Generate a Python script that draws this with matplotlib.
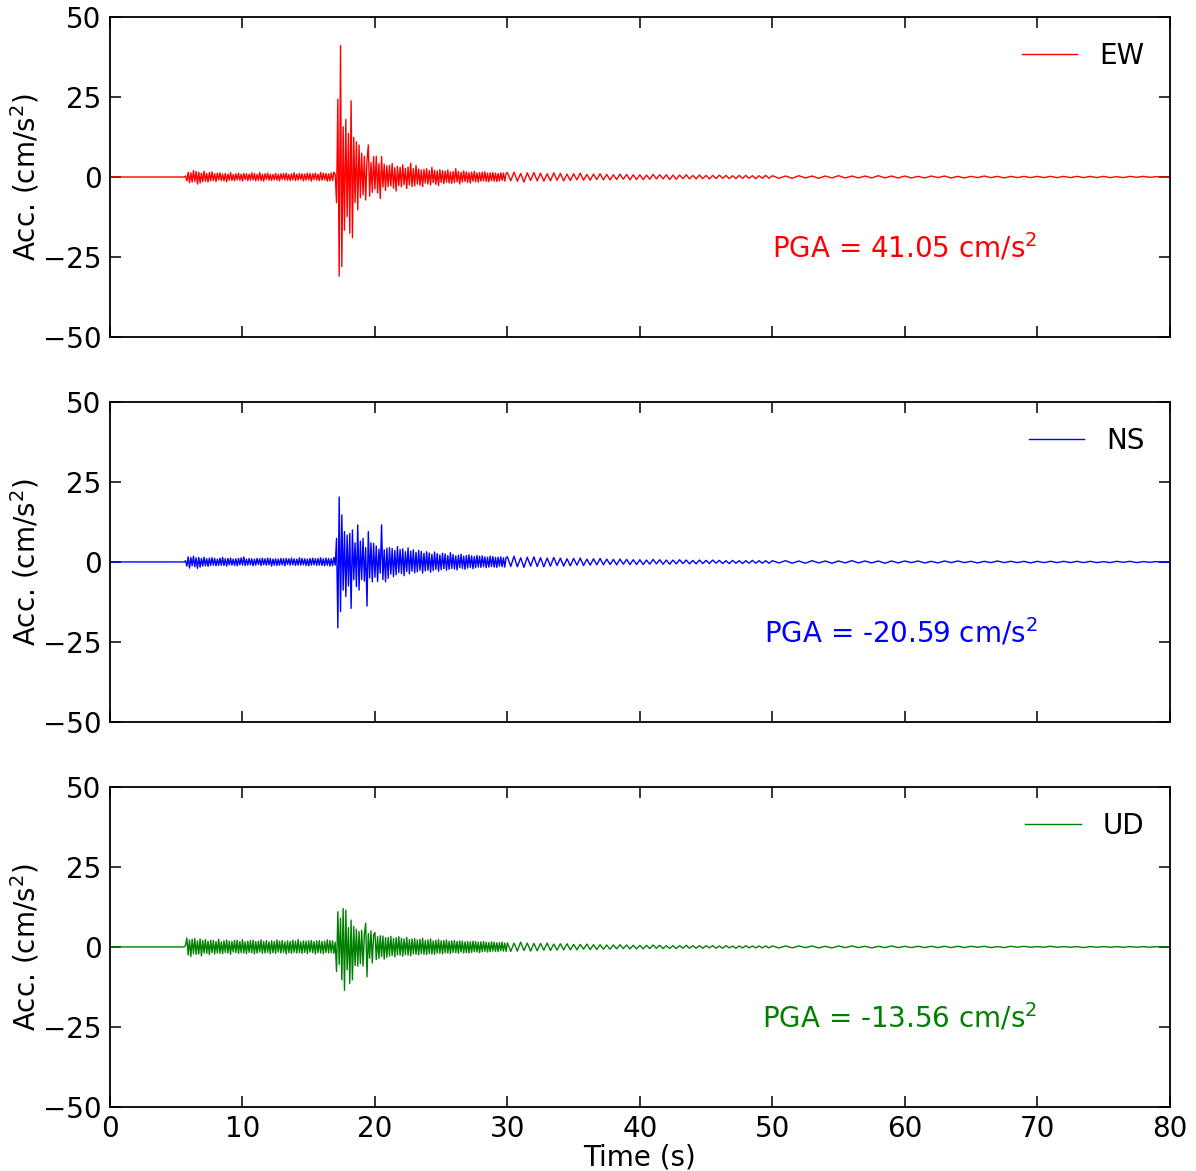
import numpy as np
import matplotlib
matplotlib.use("Agg")
import matplotlib.pyplot as plt

# record layout (s): quiet lead, P-wave part, S burst, coda, tail
t_lead = [0.0, 5.6]
lead = [0.0, 0.0]
seg_start = [5.7, 17.0, 30.0, 50.0]
seg_dt = [0.1, 0.1, 0.25, 0.5]

components = ["EW", "NS", "UD"]
colors = ["red", "blue", "green"]
pga = ["41.05", "-20.59", "-13.56"]

# ---- EW (cm/s^2) ----
ew_pre = [
    0.3, -1.2, 1.5, -1.8, 1.3, -1.6, 2.0, -1.4, 1.7, -2.2,
    1.5, -1.9, 1.2, -1.5, 1.8, -1.3, 1.1, -1.6, 1.4, -1.2,
    1.6, -1.1, 1.0, -1.4, 1.2, -0.9, 1.3, -1.1, 0.9, -1.2,
    1.1, -1.5, 0.9, -1.0, 1.4, -1.1, 0.8, -1.2, 1.0, -0.9,
    1.2, -1.0, 0.9, -1.3, 1.1, -0.8, 1.0, -1.1, 0.9, -1.0,
    1.3, -0.9, 1.1, -1.2, 0.8, -1.0, 1.4, -1.1, 0.9, -1.3,
    1.0, -0.8, 1.2, -1.0, 0.9, -1.1, 0.8, -0.9, 1.1, -1.0,
    0.9, -1.2, 1.0, -0.8, 1.1, -0.9, 1.2, -1.0, 0.8, -1.1,
    1.0, -0.9, 1.3, -1.1, 0.9, -1.0, 1.1, -0.8, 1.0, -1.2,
    0.9, -1.0, 1.2, -0.9, 1.1, -1.3, 1.0, -0.8, 1.2, -1.0,
    0.9, -1.1, 1.4, -1.0, 1.2, -0.9, 1.1, -1.3, 1.0, -1.2,
    1.3, -1.1, 1.5,
]
ew_main = [
    0.8, -8.0, 24.3, -31.0, 41.05, -28.0, 15.7, -16.6, 18.0, -12.4,
    13.6, -17.6, 23.8, -19.0, 12.4, -8.0, 11.0, -10.3, 10.0, -6.5,
    7.4, -5.6, 6.5, -7.2, 5.2, 10.0, -6.0, 4.5, -4.8, 6.4,
    -3.8, 6.5, -5.0, 4.2, -6.7, 6.4, -3.2, 4.0, -4.2, 3.5,
    -3.0, 3.6, -2.8, 4.2, -3.5, 2.9, -4.4, 3.3, -2.7, 3.0,
    -3.1, 3.8, -2.4, 2.7, -3.6, 3.1, -2.5, 4.3, -3.0, 2.6,
    -2.8, 3.6, -2.2, 2.5, -2.6, 2.2, -3.0, 2.4, -1.9, 2.6,
    -2.2, 2.0, -2.5, 3.0, -1.8, 2.1, -2.3, 1.9, -2.7, 2.3,
    -1.7, 2.0, -2.1, 1.8, -1.6, 2.2, -1.9, 1.6, -2.0, 1.7,
    -1.8, 2.6, -1.5, 1.7, -2.2, 1.5, -1.6, 1.9, -1.4, 1.6,
    -1.7, 1.4, -1.9, 1.5, -1.3, 1.8, -1.5, 1.3, -1.6, 1.4,
    -1.3, 1.5, -1.2, 1.6, -1.4, 1.2, -1.5, 1.3, -1.1, 1.4,
    -1.3, 1.2, -1.4, 1.1, -1.2, 1.3, -1.0, 1.2, -1.3, 1.1,
]
ew_coda = [
    1.4, -1.2, 1.5, -1.3, 1.1, -1.6, 1.3, -1.1, 1.4, -1.2,
    1.2, -1.3, 1.0, -1.2, 1.3, -1.0, 1.1, -1.2, 0.9, -1.1,
    1.0, -0.9, 1.2, -1.0, 0.8, -1.0, 0.9, -0.8, 1.0, -0.9,
    0.8, -0.9, 0.7, -0.8, 0.9, -0.7, 0.8, -0.9, 0.7, -0.8,
    0.7, -0.8, 0.6, -0.7, 0.8, -0.6, 0.7, -0.6, 0.7, -0.8,
    0.6, -0.7, 0.6, -0.5, 0.7, -0.6, 0.5, -0.6, 0.6, -0.5,
    0.5, -0.6, 0.5, -0.5, 0.6, -0.4, 0.5, -0.5, 0.4, -0.5,
    0.5, -0.4, 0.5, -0.4, 0.4, -0.5, 0.4, -0.4, 0.5, -0.4,
]
ew_tail = [
    0.4, -0.4, 0.3, -0.4, 0.4, -0.3, 0.3, -0.4, 0.3, -0.3,
    0.4, -0.3, 0.3, -0.3, 0.3, -0.3, 0.4, -0.3, 0.3, -0.3,
    0.3, -0.3, 0.2, -0.3, 0.3, -0.2, 0.3, -0.3, 0.2, -0.3,
    0.2, -0.2, 0.3, -0.2, 0.2, -0.3, 0.2, -0.2, 0.2, -0.2,
    0.2, -0.2, 0.2, -0.2, 0.2, -0.2, 0.2, -0.2, 0.2, -0.2,
    0.2, -0.2, 0.1, -0.2, 0.2, -0.1, 0.2, -0.1, 0.1, -0.1, 0.0,
]

# ---- NS (cm/s^2) ----
ns_pre = [
    0.4, -1.3, 1.6, -1.9, 1.4, -1.2, 1.8, -1.5, 1.3, -2.0,
    1.4, -1.6, 1.1, -1.3, 1.5, -1.2, 1.0, -1.4, 1.2, -1.1,
    1.3, -1.0, 1.1, -1.2, 0.9, -1.1, 1.2, -1.0, 1.4, -1.1,
    1.0, -1.3, 1.1, -0.9, 1.2, -1.0, 0.9, -1.1, 1.0, -1.2,
    1.1, -0.9, 1.3, -1.0, 1.6, -1.1, 0.9, -1.0, 1.1, -0.9,
    1.0, -1.2, 0.9, -1.0, 1.1, -0.8, 1.0, -1.1, 1.2, -0.9,
    1.0, -1.0, 1.2, -0.9, 1.1, -1.3, 0.9, -1.0, 1.0, -1.1,
    0.9, -1.0, 1.1, -0.9, 1.0, -1.2, 1.1, -0.8, 1.0, -1.0,
    1.2, -0.9, 1.0, -1.1, 0.9, -1.0, 1.3, -1.0, 1.1, -0.9,
    1.0, -1.1, 0.9, -1.2, 1.1, -1.0, 1.2, -0.9, 1.0, -1.1,
    1.1, -1.0, 1.3, -1.1, 1.0, -1.2, 1.2, -1.0, 1.1, -1.3,
    1.0, -1.2, 1.4,
]
ns_main = [
    -1.0, 7.4, -20.59, 20.3, -15.5, 14.7, -8.8, 9.5, -10.8, 8.4,
    -7.5, 8.9, -14.5, 10.0, -5.5, 6.0, -7.7, 11.6, -8.8, 6.5,
    -5.5, 7.4, -6.0, 4.5, -13.8, 9.5, -5.0, 6.0, -6.2, 5.8,
    -4.8, 5.0, -6.1, 4.0, -3.5, 11.6, -5.5, 3.8, -6.2, 4.3,
    -5.1, 4.5, -3.8, 4.2, -4.6, 3.6, -4.0, 4.8, -3.3, 3.9,
    -3.6, 4.1, -4.3, 3.2, -3.0, 4.4, -3.7, 3.4, -2.9, 3.8,
    -3.4, 3.0, -3.1, 3.6, -2.6, 3.3, -3.5, 2.7, -2.8, 3.2,
    -2.6, 2.8, -3.2, 2.4, -2.7, 3.1, -2.3, 2.6, -2.9, 2.2,
    -2.4, 2.7, -2.1, 2.5, -2.6, 2.0, -2.3, 2.9, -2.0, 2.3,
    -2.2, 1.9, -2.5, 2.1, -1.8, 2.4, -2.0, 1.8, -2.3, 2.0,
    -1.9, 2.2, -1.7, 1.9, -2.1, 1.7, -1.8, 2.0, -1.6, 1.8,
    -1.7, 1.9, -1.5, 1.6, -1.8, 1.5, -1.6, 1.8, -1.4, 1.7,
    -1.6, 1.4, -1.7, 1.5, -1.3, 1.6, -1.5, 1.3, -1.6, 1.4,
]
ns_coda = [
    1.6, -1.4, 1.8, -1.5, 1.3, -1.7, 1.5, -1.3, 1.6, -1.4,
    1.3, -1.5, 1.2, -1.3, 1.4, -1.1, 1.2, -1.3, 1.0, -1.2,
    1.1, -1.0, 1.2, -1.1, 0.9, -1.0, 1.0, -0.9, 1.1, -0.9,
    0.9, -0.8, 0.8, -0.9, 0.9, -0.7, 0.8, -0.8, 0.7, -0.8,
    0.7, -0.8, 0.6, -0.7, 0.8, -0.6, 0.7, -0.7, 0.6, -0.7,
    0.6, -0.6, 0.7, -0.5, 0.6, -0.6, 0.5, -0.6, 0.6, -0.5,
    0.5, -0.5, 0.6, -0.4, 0.5, -0.5, 0.4, -0.5, 0.5, -0.4,
    0.4, -0.5, 0.4, -0.4, 0.5, -0.4, 0.4, -0.4, 0.4, -0.4,
]
ns_tail = [
    0.4, -0.3, 0.4, -0.4, 0.3, -0.4, 0.4, -0.3, 0.3, -0.4,
    0.3, -0.3, 0.4, -0.3, 0.3, -0.3, 0.3, -0.4, 0.3, -0.3,
    0.3, -0.2, 0.3, -0.3, 0.2, -0.3, 0.3, -0.2, 0.3, -0.2,
    0.2, -0.3, 0.2, -0.2, 0.3, -0.2, 0.2, -0.2, 0.2, -0.3,
    0.2, -0.2, 0.2, -0.2, 0.2, -0.2, 0.2, -0.2, 0.2, -0.2,
    0.1, -0.2, 0.2, -0.1, 0.2, -0.2, 0.1, -0.1, 0.1, -0.1, 0.0,
]

# ---- UD (cm/s^2) ----
ud_pre = [
    0.5, 2.8, -2.5, 2.2, -3.0, 2.4, -2.1, 2.6, -2.3, 1.9,
    -2.2, 2.5, -2.8, 2.0, -1.9, 2.3, -2.0, 1.8, -2.4, 2.1,
    -1.8, 2.0, -2.2, 1.7, -1.9, 2.4, -2.0, 1.6, -2.1, 1.9,
    -1.7, 2.2, -1.9, 1.8, -2.3, 1.7, -1.6, 2.0, -1.8, 2.1,
    -2.0, 1.7, -1.8, 2.3, -1.9, 1.6, -2.1, 1.8, -1.7, 2.0,
    -1.8, 2.1, -2.2, 1.7, -1.9, 1.8, -1.6, 2.2, -2.0, 1.7,
    -1.9, 2.0, -1.7, 1.6, -2.1, 1.9, -1.8, 1.7, -2.0, 2.2,
    -1.6, 1.8, -1.9, 2.0, -1.7, 1.6, -2.2, 1.9, -1.8, 1.7,
    -2.0, 2.1, -1.7, 1.8, -1.9, 2.3, -1.8, 1.6, -2.0, 1.9,
    -1.7, 1.8, -2.1, 1.9, -1.6, 2.0, -1.8, 1.7, -2.2, 1.9,
    -1.8, 2.0, -1.9, 1.7, -2.1, 1.8, -1.7, 2.2, -1.9, 2.0,
    -1.8, 1.9, -2.0,
]
ud_main = [
    1.5, -7.7, 11.0, -5.5, 9.0, -10.3, 12.0, -13.56, 11.5, -7.2,
    6.0, -11.4, 8.4, -10.3, 6.4, -5.8, 5.5, -6.0, 4.8, -5.2,
    5.2, -6.0, 4.0, 7.4, -9.3, 4.2, -3.5, 5.0, -5.0, 3.8,
    4.5, -4.0, 3.2, -3.6, 3.5, -3.0, 3.4, -3.8, 2.9, -3.2,
    3.0, -2.8, 3.3, -2.7, 2.6, -3.1, 2.9, -2.5, 3.2, -2.6,
    2.7, -2.9, 2.5, -2.4, 3.0, -2.6, 2.3, -2.8, 2.5, -2.2,
    2.6, -2.3, 2.2, -2.5, 2.4, -2.1, 2.7, -2.3, 2.0, -2.4,
    2.2, -2.0, 2.5, -2.2, 1.9, -2.3, 2.1, -1.9, 2.3, -2.0,
    1.9, -2.2, 2.0, -1.8, 2.2, -1.9, 1.8, -2.1, 1.9, -1.7,
    2.0, -1.8, 1.7, -2.0, 1.9, -1.6, 1.8, -1.9, 1.6, -1.8,
    1.7, -1.9, 1.6, -1.7, 1.8, -1.5, 1.7, -1.6, 1.5, -1.8,
    1.6, -1.5, 1.7, -1.4, 1.5, -1.6, 1.4, -1.5, 1.6, -1.3,
    1.5, -1.4, 1.3, -1.5, 1.4, -1.2, 1.5, -1.3, 1.2, -1.4,
]
ud_coda = [
    1.3, -1.4, 1.2, -1.3, 1.5, -1.1, 1.2, -1.3, 1.1, -1.2,
    1.1, -1.0, 1.2, -1.1, 0.9, -1.0, 1.0, -0.9, 1.0, -0.9,
    0.8, -0.9, 0.8, -0.7, 0.9, -0.8, 0.7, -0.8, 0.7, -0.7,
    0.6, -0.7, 0.6, -0.6, 0.7, -0.5, 0.6, -0.6, 0.5, -0.6,
    0.5, -0.6, 0.5, -0.5, 0.6, -0.4, 0.5, -0.5, 0.4, -0.5,
    0.4, -0.5, 0.4, -0.4, 0.5, -0.4, 0.4, -0.4, 0.4, -0.4,
    0.4, -0.3, 0.4, -0.4, 0.3, -0.4, 0.4, -0.3, 0.3, -0.4,
    0.3, -0.3, 0.4, -0.3, 0.3, -0.3, 0.3, -0.3, 0.3, -0.3,
]
ud_tail = [
    0.3, -0.3, 0.3, -0.3, 0.3, -0.2, 0.3, -0.3, 0.2, -0.3,
    0.3, -0.2, 0.3, -0.2, 0.2, -0.3, 0.2, -0.2, 0.3, -0.2,
    0.2, -0.2, 0.2, -0.2, 0.2, -0.2, 0.2, -0.2, 0.2, -0.2,
    0.2, -0.1, 0.2, -0.2, 0.1, -0.2, 0.2, -0.1, 0.2, -0.1,
    0.1, -0.1, 0.2, -0.1, 0.1, -0.1, 0.1, -0.2, 0.1, -0.1,
    0.1, -0.1, 0.1, -0.1, 0.1, -0.1, 0.1, -0.1, 0.1, -0.1, 0.0,
]

records = [
    [ew_pre, ew_main, ew_coda, ew_tail],
    [ns_pre, ns_main, ns_coda, ns_tail],
    [ud_pre, ud_main, ud_coda, ud_tail],
]


def build(segments):
    t = list(t_lead)
    a = list(lead)
    for start, dt, vals in zip(seg_start, seg_dt, segments):
        t.extend(start + dt * np.arange(len(vals)))
        a.extend(vals)
    return np.array(t), np.array(a)


plt.rcParams["font.family"] = "DejaVu Sans"
plt.rcParams["font.size"] = 20

fig, axes = plt.subplots(3, 1, figsize=(11.96, 11.71), dpi=100, sharex=True)
fig.subplots_adjust(left=0.092, right=0.978, top=0.9855, bottom=0.0547, hspace=0.203)

for ax, name, col, segs, peak in zip(axes, components, colors, records, pga):
    t, acc = build(segs)
    ax.plot(t, acc, color=col, lw=1.0, label=name)
    ax.set_xlim(0, 80)
    ax.set_ylim(-50, 50)
    ax.set_yticks([-50, -25, 0, 25, 50])
    ax.set_xticks(np.arange(0, 81, 10))
    ax.tick_params(direction="in", top=True, right=True, length=8, width=1.1, pad=6)
    for s in ax.spines.values():
        s.set_linewidth(1.3)
    ax.set_ylabel("Acc. (cm/s$^2$)", labelpad=1)
    ax.legend(loc="upper right", frameon=False, handlelength=2.0)
    ax.text(0.875, 0.247, "PGA = " + peak + " cm/s$^2$", color=col,
            transform=ax.transAxes, ha="right", va="baseline")

axes[-1].set_xlabel("Time (s)", labelpad=0)

fig.savefig("out.png", dpi=100)
